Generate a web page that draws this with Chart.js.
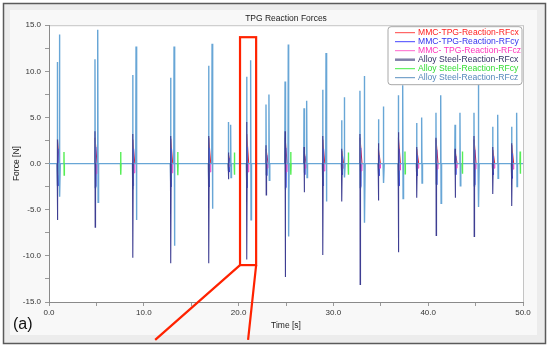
<!DOCTYPE html>
<html>
<head>
<meta charset="utf-8">
<script src="https://cdn.jsdelivr.net/npm/chart.js"></script>
<style>
  html, body { margin: 0; padding: 0; background: #fff; }
  canvas { display: block; }
</style>
</head>
<body>
<canvas id="forceChart" width="550" height="348"></canvas>
<script>
// series names and colours (legend order)
var seriesNames = ['MMC-TPG-Reaction-RFcx', 'MMC-TPG-Reaction-RFcy', 'MMC- TPG-Reaction-RFcz',
                   'Alloy Steel-Reaction-RFcx', 'Alloy Steel-Reaction-RFcy', 'Alloy Steel-Reaction-RFcz'];
var lineColors = ['#d8283a', '#3a3aee', '#ee33c0', '#3e3e92', '#55ee55', '#68a6d6'];
var legendLineColors = ['#ff4444', '#4444ff', '#ff66cc', '#8080a8', '#44ee44', '#5b90c0'];
var textColors = ['#ff2222', '#3333ee', '#ff33bb', '#333366', '#33dd33', '#5588bb'];

// impact times [s]: first (left) spike and second (right) spike of each cluster
var spikeTimes = [0.88, 4.85, 8.83, 12.83, 16.84, 18.92, 20.85, 22.89, 24.9, 26.9, 28.87,
                  30.87, 32.8, 34.74, 36.85, 38.78, 40.82, 42.83, 44.83, 46.8, 48.8];
var czTimes = [1.1, 5.14, 9.18, 13.19, 17.2, 19.16, 21.27, 23.2, 25.24, 27.18, 29.22,
               31.15, 33.26, 35.27, 37.31, 39.31, 41.32, 43.35, 45.29, 47.33, 49.33];

// Alloy Steel RFcz [N]
var czPeakLeft = [11.0, 11.3, 9.6, 9.3, 10.6, 4.5, 9.4, 6.4, 8.9, 6.0, 8.0,
                  4.7, 7.9, 4.8, 7.4, 4.4, 5.5, 4.2, 5.5, 4.0, 4.0];
var czTroughLeft = [-2.4, -2.6, -2.8, -2.5, -2.4, -0.8, -2.6, -1.2, -2.8, -1.0, -2.4,
                    -1.0, -2.6, -1.2, -2.4, -1.2, -2.2, -1.2, -2.4, -1.0, -1.4];
var czPeakRight = [14.0, 14.5, 12.7, 12.7, 13.0, 4.2, 11.2, 7.5, 12.9, 6.8, 12.0,
                   7.2, 9.5, 6.2, 8.5, 5.0, 7.4, 5.5, 9.4, 5.3, 5.5];
var czTroughRight = [-3.6, -4.2, -6.1, -8.9, -4.9, -1.5, -6.1, -1.8, -7.9, -1.5, -4.1,
                     -1.5, -6.4, -2.1, -3.8, -2.1, -4.3, -2.4, -4.7, -1.6, -2.5];

// Alloy Steel RFcx [N]
var cxPeak = [2.6, 3.5, 3.2, 3.0, 3.0, 1.2, 4.5, 2.0, 3.5, 1.8, 3.0,
              1.6, 3.2, 2.2, 3.4, 1.8, 2.8, 1.6, 3.0, 1.8, 2.2];
var cxTrough = [-6.1, -6.9, -10.2, -10.8, -10.8, -1.7, -10.4, -3.4, -12.3, -3.1, -9.9,
                -4.1, -13.1, -4.0, -9.6, -3.7, -7.8, -3.7, -7.9, -3.3, -4.6];

// Alloy Steel RFcy [N]
var cyTimes = [1.58, 7.56, 13.58, 19.55, 25.5, 31.57, 37.55, 43.6, 49.7];
var cyPeak = [1.25, 1.25, 1.25, 1.2, 1.25, 1.2, 1.3, 1.3, 1.3];
var cyTrough = [-1.25, -1.2, -1.25, -1.2, -1.2, -1.2, -1.1, -1.1, -1.1];

// MMC-TPG [N]
var mmcCxPeak = [2.6, 2.8, 2.6, 2.7, 2.8, 1.0, 3.2, 1.6, 2.8, 1.4, 2.6,
                 1.4, 2.8, 1.6, 2.8, 1.6, 2.6, 1.4, 2.6, 1.5, 2.0];
var mmcCyPeak = [1.6, 1.8, 1.6, 1.6, 1.7, 0.6, 1.8, 0.9, 1.7, 0.8, 1.6,
                 0.8, 1.7, 0.9, 1.6, 0.9, 1.5, 0.8, 1.5, 0.8, 1.1];
var mmcCyTrough = [-2.4, -2.5, -2.4, -2.5, -2.5, -0.9, -2.6, -1.3, -2.6, -1.2, -2.4,
                   -1.2, -2.5, -1.3, -2.4, -1.3, -2.3, -1.2, -2.3, -1.2, -1.6];
var mmcCzTrough = [-1.2, -1.1, -1.0, -1.0, -0.9, -0.3, -0.9, -0.5, -0.9, -0.5, -0.8,
                   -0.5, -0.8, -0.5, -0.7, -0.5, -0.6, -0.5, -0.6, -0.5, -0.6];

// axis ticks
var xTickStep = 5, yTickStep = 2.5;

// ---- build point lists ----
var gap = function(t) { return { x: t, y: null }; };

var mmcCx = [], mmcCy = [], mmcCz = [], alloyCx = [], alloyCy = [], alloyCz = [{ x: 0, y: 0 }];
spikeTimes.forEach(function(t, i) {
    mmcCx.push({ x: t, y: 0 }, { x: t + 0.01, y: mmcCxPeak[i] }, { x: t + 0.22, y: 0 }, gap(t + 0.3));
    mmcCy.push({ x: t + 0.05, y: 0 }, { x: t + 0.06, y: mmcCyPeak[i] }, { x: t + 0.09, y: mmcCyTrough[i] },
               { x: t + 0.12, y: 0 }, gap(t + 0.3));
    mmcCz.push({ x: t + 0.08, y: 0 }, { x: t + 0.09, y: mmcCzTrough[i] }, { x: t + 0.2, y: mmcCzTrough[i] },
               { x: t + 0.22, y: 0 }, gap(t + 0.3));
    alloyCx.push({ x: t - 0.02, y: 0 }, { x: t, y: cxPeak[i] }, { x: t + 0.02, y: cxTrough[i] },
                 { x: t + 0.06, y: 0 }, gap(t + 0.3));
    var r = czTimes[i];
    alloyCz.push({ x: t - 0.03, y: 0 }, { x: t, y: czPeakLeft[i] }, { x: t + 0.03, y: czTroughLeft[i] },
                 { x: t + 0.07, y: 0 }, { x: r - 0.03, y: 0 }, { x: r, y: czPeakRight[i] },
                 { x: r + 0.04, y: czTroughRight[i] }, { x: r + 0.09, y: 0 });
});
alloyCz.push({ x: 50, y: 0 });
cyTimes.forEach(function(t, i) {
    alloyCy.push({ x: t - 0.02, y: 0 }, { x: t, y: cyPeak[i] }, { x: t + 0.02, y: cyTrough[i] },
                 { x: t + 0.04, y: 0 }, gap(t + 0.2));
});

var seriesData = [mmcCx, mmcCy, mmcCz, alloyCx, alloyCy, alloyCz];
var lineWidths = [1, 1, 1, 1.1, 1.4, 1.4];
var drawOrder = [6, 5, 4, 2, 1, 3];   // higher value is painted first

var datasets = seriesNames.map(function(name, i) {
    return {
        label: name,
        data: seriesData[i],
        borderColor: lineColors[i],
        borderWidth: lineWidths[i],
        order: drawOrder[i],
        pointRadius: 0,
        tension: 0,
        fill: false,
        spanGaps: false
    };
});

// ---- plugins ----
var panelPlugin = {
    id: 'panel',
    beforeDraw: function(chart) {
        var ctx = chart.ctx, a = chart.chartArea;
        ctx.save();
        ctx.fillStyle = '#ffffff';
        ctx.fillRect(0, 0, chart.width, chart.height);
        ctx.fillStyle = '#ececec';
        ctx.fillRect(3, 3, 543, 341);
        ctx.strokeStyle = '#5a5a5a';
        ctx.lineWidth = 1.5;
        ctx.strokeRect(3.5, 3.5, 542, 340);
        ctx.fillStyle = '#f8f8f8';
        ctx.fillRect(10, 10, 527, 325);
        ctx.fillStyle = '#ffffff';
        ctx.fillRect(a.left, a.top, a.right - a.left, a.bottom - a.top);
        ctx.strokeStyle = '#c4c4c4';
        ctx.lineWidth = 1;
        ctx.strokeRect(a.left + 0.5, a.top + 0.5, a.right - a.left, a.bottom - a.top);
        ctx.restore();
    }
};

var boxLegend = {
    id: 'boxLegend',
    afterDraw: function(chart) {
        var ctx = chart.ctx, a = chart.chartArea;
        var w = 134, h = 58, x = a.right - w - 1, y = a.top + 1.5, r = 3;
        ctx.save();
        ctx.beginPath();
        ctx.moveTo(x + r, y);
        ctx.lineTo(x + w - r, y);
        ctx.quadraticCurveTo(x + w, y, x + w, y + r);
        ctx.lineTo(x + w, y + h - r);
        ctx.quadraticCurveTo(x + w, y + h, x + w - r, y + h);
        ctx.lineTo(x + r, y + h);
        ctx.quadraticCurveTo(x, y + h, x, y + h - r);
        ctx.lineTo(x, y + r);
        ctx.quadraticCurveTo(x, y, x + r, y);
        ctx.closePath();
        ctx.fillStyle = '#ffffff';
        ctx.fill();
        ctx.strokeStyle = '#a8a8a8';
        ctx.lineWidth = 1;
        ctx.stroke();
        ctx.font = "8.6px 'Liberation Sans', Arial, sans-serif";
        ctx.textBaseline = 'middle';
        chart.data.datasets.forEach(function(ds, i) {
            var ry = y + 6 + i * 9;
            ctx.strokeStyle = legendLineColors[i];
            ctx.lineWidth = i === 3 ? 2.5 : 1;
            ctx.beginPath();
            ctx.moveTo(x + 7, ry);
            ctx.lineTo(x + 27, ry);
            ctx.stroke();
            ctx.fillStyle = textColors[i];
            ctx.fillText(ds.label, x + 30, ry);
        });
        ctx.restore();
    }
};

var zoomBox = { x0: 20.15, x1: 21.85, yTop: 13.7, yBottom: -11.0, tailLeft: 11.2, tailRight: 21.0, tailY: -19.1 };

var annotations = {
    id: 'annotations',
    afterDraw: function(chart) {
        var ctx = chart.ctx, xs = chart.scales.x, ys = chart.scales.y;
        var l = xs.getPixelForValue(zoomBox.x0), rr = xs.getPixelForValue(zoomBox.x1);
        var t = ys.getPixelForValue(zoomBox.yTop), b = ys.getPixelForValue(zoomBox.yBottom);
        var ty = ys.getPixelForValue(zoomBox.tailY);
        ctx.save();
        ctx.strokeStyle = '#ff2200';
        ctx.lineWidth = 2.2;
        ctx.strokeRect(l, t, rr - l, b - t);
        ctx.beginPath();
        ctx.moveTo(l, b);
        ctx.lineTo(xs.getPixelForValue(zoomBox.tailLeft), ty);
        ctx.moveTo(rr, b);
        ctx.lineTo(xs.getPixelForValue(zoomBox.tailRight), ty);
        ctx.stroke();
        ctx.fillStyle = '#111111';
        ctx.font = "16px 'Liberation Sans', Arial, sans-serif";
        ctx.textBaseline = 'middle';
        ctx.fillText('(a)', 13, 325);
        ctx.restore();
    }
};

Chart.defaults.font.family = "'Liberation Sans', Arial, sans-serif";
Chart.defaults.color = '#333333';

var tickFont = { size: 8 };

new Chart(document.getElementById('forceChart').getContext('2d'), {
    type: 'line',
    data: { datasets: datasets },
    options: {
        responsive: false,
        animation: false,
        events: [],
        layout: { padding: { left: 12, right: 27, top: 0, bottom: 10 } },
        plugins: {
            legend: { display: false },
            tooltip: { enabled: false },
            title: {
                display: true,
                text: 'TPG Reaction Forces',
                fullSize: false,
                color: '#222222',
                font: { size: 8.5, weight: 'normal' },
                padding: { top: 14, bottom: 1 }
            }
        },
        scales: {
            x: {
                type: 'linear',
                min: 0,
                max: 50,
                afterFit: function(s) { s.height = 36; },
                ticks: {
                    stepSize: xTickStep,
                    autoSkip: false,
                    maxRotation: 0,
                    padding: 2,
                    font: tickFont,
                    callback: function(v) { return v % 10 === 0 ? v.toFixed(1) : ''; }
                },
                grid: { drawOnChartArea: false, drawTicks: true, tickLength: 4, color: '#999999' },
                border: { color: '#8a8a8a' },
                title: {
                    display: true,
                    text: 'Time [s]',
                    color: '#222222',
                    font: { size: 8.5 },
                    padding: { top: 0, bottom: 7 }
                }
            },
            y: {
                min: -15,
                max: 15,
                afterFit: function(s) { s.width = 37; },
                ticks: {
                    stepSize: yTickStep,
                    autoSkip: false,
                    padding: 4,
                    font: tickFont,
                    callback: function(v) { return v % 5 === 0 ? v.toFixed(1) : ''; }
                },
                grid: { drawOnChartArea: false, drawTicks: true, tickLength: 4, color: '#999999' },
                border: { color: '#8a8a8a' },
                title: {
                    display: true,
                    text: 'Force [N]',
                    color: '#222222',
                    font: { size: 8.5 },
                    padding: { top: 0, bottom: 0 }
                }
            }
        }
    },
    plugins: [panelPlugin, boxLegend, annotations]
});
</script>
</body>
</html>
